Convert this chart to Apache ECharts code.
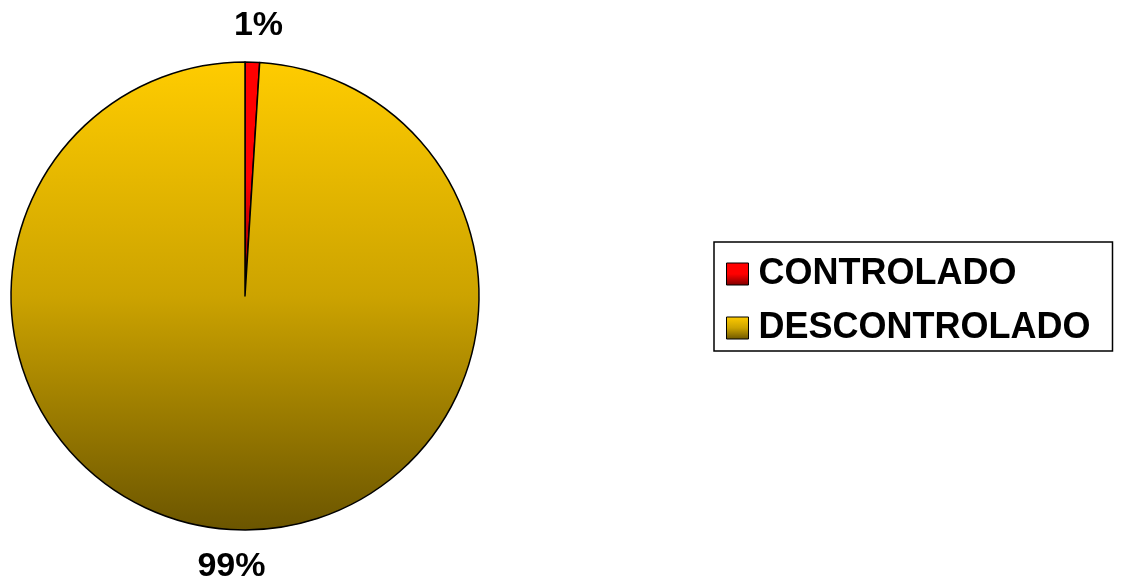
<!DOCTYPE html>
<html>
<head>
<meta charset="utf-8">
<script src="https://cdn.jsdelivr.net/npm/echarts@6/dist/echarts.min.js"></script>
<title>Controlado</title>
<style>
  html, body { margin: 0; padding: 0; background: #fff; }
  #chart { width: 1127px; height: 587px; }
</style>
</head>
<body>
<div id="chart"></div>
<script>
// datos
var categorias = ['CONTROLADO', 'DESCONTROLADO'];
var valores = [1, 99];
var colores = [
  ['#ff0000', '#ff0000', '#7a0000'],
  ['#ffcc00', '#cca300', '#6b5500']
];

function grad(c) {
  return new echarts.graphic.LinearGradient(0, 0, 0, 1, [
    { offset: 0, color: c[0] },
    { offset: 0.5, color: c[1] },
    { offset: 1, color: c[2] }
  ]);
}

var chart = echarts.init(document.getElementById('chart'));

var datos = [];
for (var i = 0; i < categorias.length; i++) {
  datos.push({
    name: categorias[i],
    value: valores[i],
    itemStyle: { color: grad(colores[i]) }
  });
}

var option = {
  animation: false,
  legend: {
    orient: 'vertical',
    left: 714,
    top: 242,
    data: categorias,
    itemWidth: 22,
    itemHeight: 22,
    itemGap: 18,
    padding: [14, 22, 5, 12],
    borderColor: '#000',
    borderWidth: 1.5,
    icon: 'rect',
    itemStyle: { borderColor: '#000', borderWidth: 1 },
    textStyle: {
      fontFamily: 'Liberation Sans, Arial, sans-serif',
      fontWeight: 'bold',
      fontSize: 36,
      lineHeight: 36,
      color: '#000',
      padding: [0, 0, 0, 5]
    }
  },
  series: [
    {
      name: 'estado',
      type: 'pie',
      center: [245, 296],
      radius: 234,
      startAngle: 90,
      clockwise: true,
      avoidLabelOverlap: false,
      itemStyle: { borderColor: '#000', borderWidth: 1.5 },
      label: {
        show: true,
        position: 'outside',
        formatter: function (p) { return Math.round(p.percent) + '%'; },
        fontFamily: 'Liberation Sans, Arial, sans-serif',
        fontWeight: 'bold',
        fontSize: 34,
        color: '#000'
      },
      labelLine: { show: false, length: 37, length2: 0 },
      labelLayout: { align: 'center', verticalAlign: 'middle' },
      emphasis: { disabled: true },
      data: datos
    }
  ]
};
chart.setOption(option);
</script>
</body>
</html>
